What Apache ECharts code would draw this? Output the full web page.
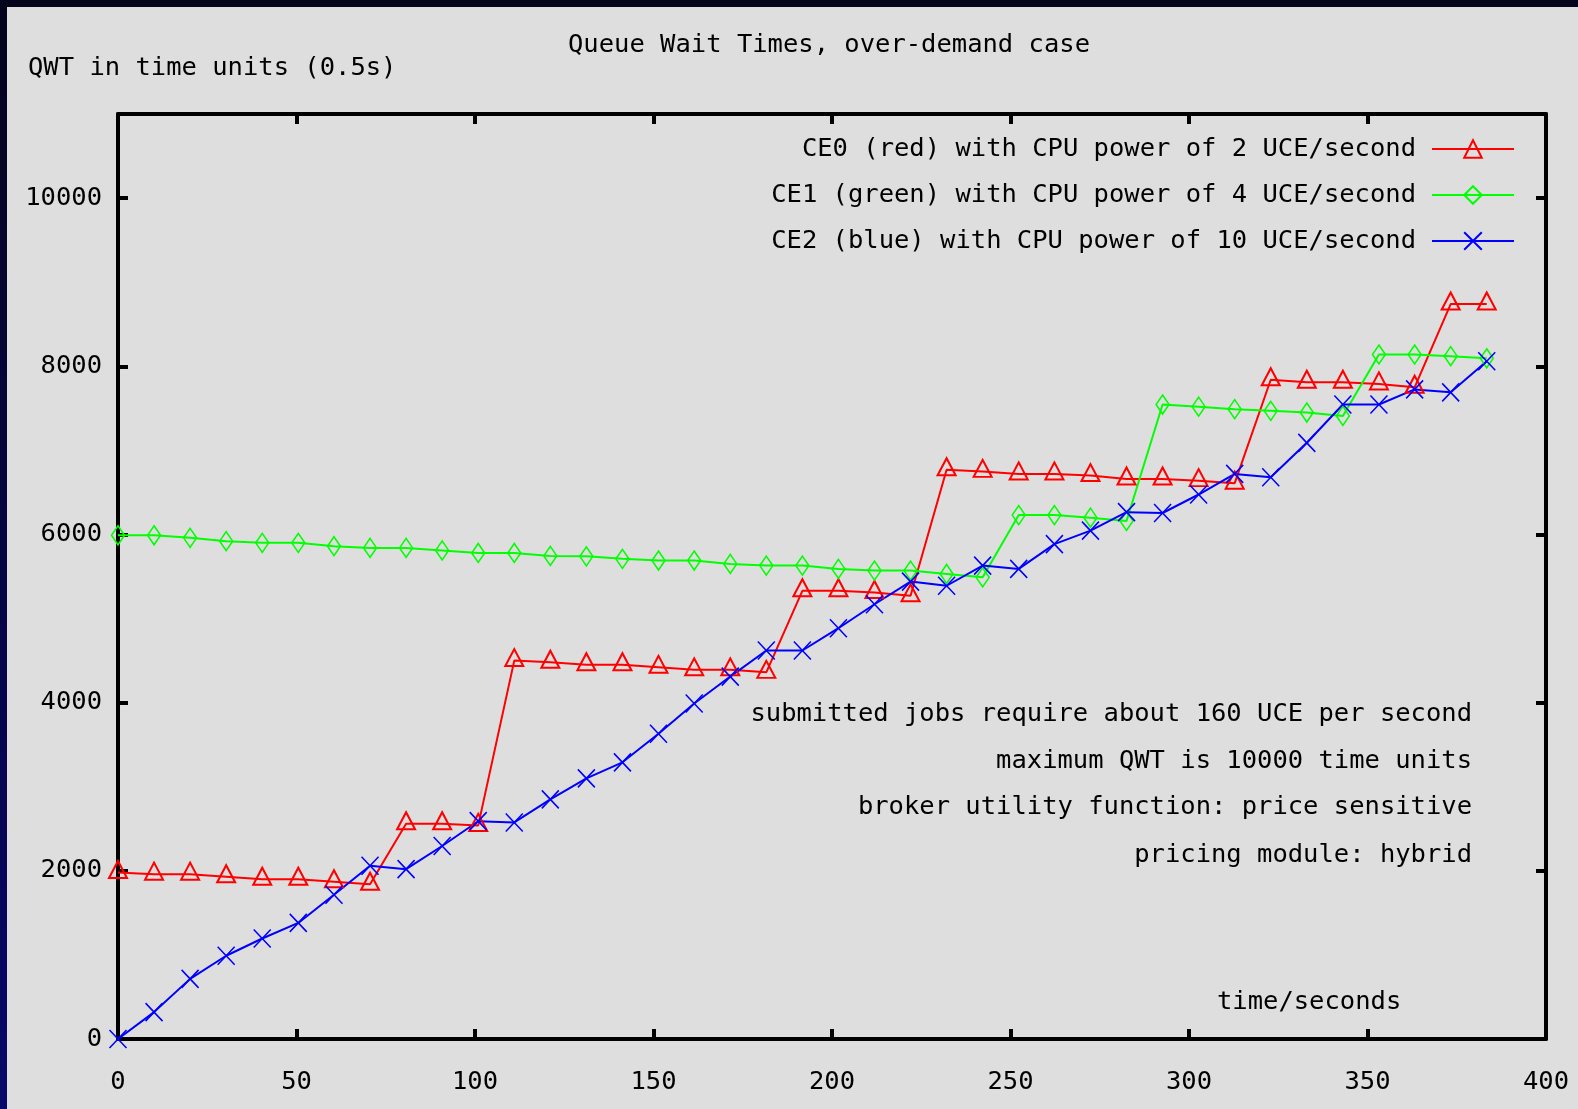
<!DOCTYPE html>
<html>
<head>
<meta charset="utf-8">
<script src="https://cdn.jsdelivr.net/npm/echarts@6/dist/echarts.min.js"></script>
<style>
html,body{margin:0;padding:0;width:1578px;height:1109px;overflow:hidden;
  background:linear-gradient(180deg,#04041c 0%,#05053e 45%,#08086a 100%);}
#panel{position:absolute;left:7px;top:7px;right:0;bottom:0;background:#dedede;}
#chart{position:absolute;left:0;top:0;width:1578px;height:1109px;}
</style>
</head>
<body>
<div id="panel"></div>
<div id="chart"></div>
<script>
// ---- data ----
const times = [0, 10.1, 20.2, 30.3, 40.4, 50.5, 60.5, 70.6, 80.7, 90.8, 100.9, 111.0, 121.1, 131.2, 141.3, 151.4, 161.4, 171.5, 181.6, 191.7, 201.8, 211.9, 222.0, 232.1, 242.2, 252.3, 262.3, 272.4, 282.5, 292.6, 302.7, 312.8, 322.9, 333.0, 343.1, 353.2, 363.2, 373.3, 383.4];
const ce0Red = [1980, 1960, 1960, 1930, 1900, 1900, 1870, 1840, 2560, 2560, 2540, 4500, 4480, 4450, 4450, 4420, 4390, 4390, 4360, 5330, 5330, 5310, 5270, 6770, 6750, 6720, 6720, 6700, 6660, 6660, 6640, 6610, 7840, 7810, 7810, 7790, 7750, 8740, 8740];
const ce1Green = [5990, 5990, 5960, 5920, 5900, 5900, 5860, 5840, 5840, 5810, 5780, 5780, 5745, 5740, 5710, 5690, 5690, 5650, 5630, 5630, 5590, 5570, 5570, 5530, 5490, 6230, 6230, 6200, 6160, 7545, 7520, 7490, 7470, 7450, 7410, 8140, 8140, 8120, 8095];
const ce2Blue = [0, 320, 715, 990, 1195, 1380, 1715, 2060, 2020, 2295, 2590, 2575, 2850, 3100, 3290, 3630, 3990, 4310, 4620, 4620, 4885, 5170, 5440, 5390, 5630, 5590, 5885, 6045, 6265, 6255, 6475, 6720, 6680, 7090, 7545, 7545, 7725, 7690, 8060];
const seriesNames = [
  'CE0 (red) with CPU power of 2 UCE/second',
  'CE1 (green) with CPU power of 4 UCE/second',
  'CE2 (blue) with CPU power of 10 UCE/second'
];
const chartTitle = 'Queue Wait Times, over-demand case';
const yAxisTitle = 'QWT in time units (0.5s)';
const xAxisTitle = 'time/seconds';
const notes = [
  'submitted jobs require about 160 UCE per second',
  'maximum QWT is 10000 time units',
  'broker utility function: price sensitive',
  'pricing module: hybrid'
];
const xRange = [0, 400, 50];
const yRange = [0, 11000, 2000];

// ---- styling ----
const FONT = 'DejaVu Sans Mono';
const FS = 25.5;
const noteY = [714, 761, 807, 855];

function pairs(vals) { return times.map((t, i) => [t, vals[i]]); }

const axisLine = {show: true, onZero: false, lineStyle: {color: '#000', width: 4}};
const axisTick = {show: true, inside: true, length: 10, lineStyle: {color: '#000', width: 4}};
const labelStyle = {color: '#000', fontFamily: FONT, fontSize: FS};

const chart = echarts.init(document.getElementById('chart'), null, {renderer: 'canvas'});
chart.setOption({
  animation: false,
  backgroundColor: 'transparent',
  title: [
    {text: chartTitle, left: 568, top: 32, padding: 0,
     textStyle: {fontFamily: FONT, fontSize: FS, fontWeight: 'normal', color: '#000'}},
    {text: yAxisTitle, left: 28, top: 55, padding: 0,
     textStyle: {fontFamily: FONT, fontSize: FS, fontWeight: 'normal', color: '#000'}}
  ],
  grid: {left: 118, right: 32, top: 114, bottom: 70, containLabel: false, outerBoundsMode: 'none'},
  legend: {
    orient: 'vertical', right: 63, top: 136, align: 'right', padding: 0,
    itemWidth: 82, itemHeight: 22, itemGap: 20, selectedMode: false,
    textStyle: {fontFamily: FONT, fontSize: FS, color: '#000', lineHeight: 26, padding: [0, 11, 0, 0]},
    data: seriesNames
  },
  xAxis: [
    {type: 'value', position: 'bottom', min: xRange[0], max: xRange[1], interval: xRange[2],
     axisLine, axisTick, splitLine: {show: false},
     axisLabel: Object.assign({margin: 30}, labelStyle),
     name: xAxisTitle, nameLocation: 'end', nameGap: -329,
     nameTextStyle: {fontFamily: FONT, fontSize: FS, color: '#000', verticalAlign: 'bottom', align: 'left', padding: [0, 0, 24, 0]}},
    {type: 'value', position: 'top', min: xRange[0], max: xRange[1], interval: xRange[2],
     axisLine, axisTick, splitLine: {show: false}, axisLabel: {show: false}}
  ],
  yAxis: [
    {type: 'value', position: 'left', min: yRange[0], max: yRange[1], interval: yRange[2],
     axisLine, axisTick, splitLine: {show: false},
     axisLabel: Object.assign({margin: 16, showMaxLabel: false,
       formatter: v => (v > 10000 ? '' : String(v))}, labelStyle)},
    {type: 'value', position: 'right', min: yRange[0], max: yRange[1], interval: yRange[2],
     axisLine, axisTick, splitLine: {show: false}, axisLabel: {show: false}}
  ],
  graphic: notes.map((t, i) => ({
    type: 'text', x: 1472, y: noteY[i], silent: true,
    style: {text: t, font: FS + 'px "' + FONT + '"', fill: '#000', align: 'right', verticalAlign: 'middle'}
  })),
  series: [
    {name: seriesNames[0], type: 'line', data: pairs(ce0Red),
     symbol: 'triangle', symbolSize: [18, 17], symbolOffset: [0, -3],
     lineStyle: {color: '#ff0000', width: 2},
     itemStyle: {color: 'rgba(0,0,0,0)', borderColor: '#ff0000', borderWidth: 2},
     emphasis: {disabled: true}},
    {name: seriesNames[1], type: 'line', data: pairs(ce1Green),
     symbol: 'diamond', symbolSize: [13, 19],
     lineStyle: {color: '#00ff00', width: 2},
     itemStyle: {color: 'rgba(0,0,0,0)', borderColor: '#00ff00', borderWidth: 1.6},
     emphasis: {disabled: true}},
    {name: seriesNames[2], type: 'line', data: pairs(ce2Blue),
     symbol: 'path://M0,0L10,10M10,0L0,10', symbolSize: [17, 18],
     lineStyle: {color: '#0000ff', width: 2},
     itemStyle: {color: 'rgba(0,0,0,0)', borderColor: '#0000ff', borderWidth: 1.6},
     emphasis: {disabled: true}}
  ]
});
</script>
</body>
</html>
